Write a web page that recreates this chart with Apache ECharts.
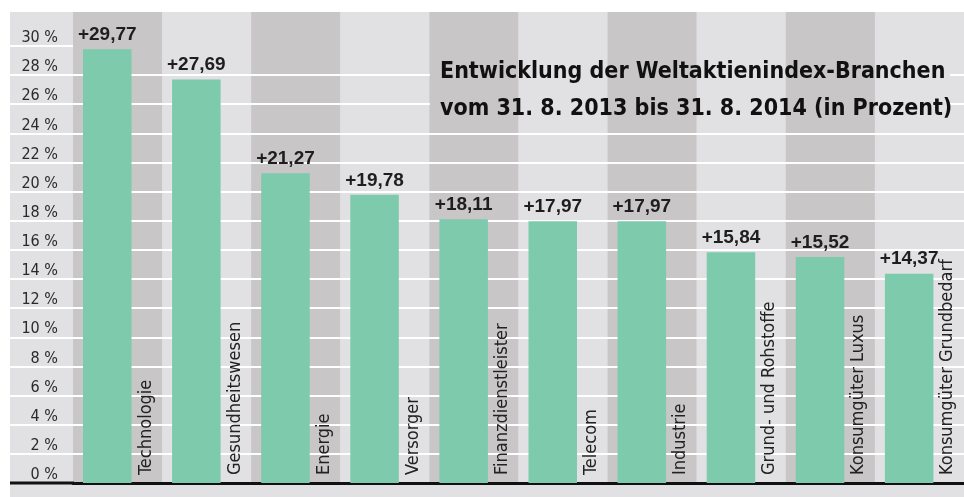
<!DOCTYPE html>
<html>
<head>
<meta charset="utf-8">
<script src="https://cdn.jsdelivr.net/npm/echarts@6/dist/echarts.min.js"></script>
<style>
  html, body { margin: 0; padding: 0; background: #fff; }
  #chart { width: 964px; height: 497px; }
</style>
</head>
<body>
<div id="chart"></div>
<script>
// Daten
const branchen = ['Technologie', 'Gesundheitswesen', 'Energie', 'Versorger', 'Finanzdienstleister',
  'Telecom', 'Industrie', 'Grund- und Rohstoffe', 'Konsumgüter Luxus', 'Konsumgüter Grundbedarf'];
const werte = [29.77, 27.69, 21.27, 19.78, 18.11, 17.97, 17.97, 15.84, 15.52, 14.37];
const yTicks = [0, 2, 4, 6, 8, 10, 12, 14, 16, 18, 20, 22, 24, 26, 28, 30];

const narrow = '"Liberation Sans Narrow", "DejaVu Sans Condensed", sans-serif';
const hell = '#e1e0e2';
const dunkel = '#c8c6c7';

// Gitterlinien: nur bis 30 %, darueber keine
const lineColors = yTicks.map(() => '#ffffff').concat(['rgba(0,0,0,0)', 'rgba(0,0,0,0)']);

const gridLeft = 73, gridTop = 12, gridBottom = 14, yMax = 32.33;
const W = 964, H = 497;
const band = (W - gridLeft) / branchen.length;
const yPx = v => H - gridBottom - v * (H - gridTop - gridBottom) / yMax;

// Hintergrundflaeche, Grundlinie links und Streifen hinter dem Titel
const titelLinks = 430, titelRechts = 950;
const deko = [
  {
    type: 'rect',
    z: -10,
    silent: true,
    shape: { x: 10, y: 12, width: 954, height: 485 },
    style: { fill: hell }
  },
  {
    type: 'rect',
    z: 10,
    silent: true,
    shape: { x: 10, y: yPx(0) - 1.5, width: 64, height: 3 },
    style: { fill: '#111' }
  }
];
branchen.forEach((b, i) => {
  const x0 = Math.max(gridLeft + i * band, titelLinks);
  const x1 = Math.min(gridLeft + (i + 1) * band, titelRechts);
  if (x1 <= x0) return;
  deko.push({
    type: 'rect',
    z: 5,
    silent: true,
    shape: { x: x0, y: yPx(29), width: x1 - x0, height: yPx(25) - yPx(29) },
    style: { fill: i % 2 === 0 ? dunkel : hell }
  });
});

const chart = echarts.init(document.getElementById('chart'));

const option = {
  animation: false,
  backgroundColor: '#ffffff',
  title: {
    text: 'Entwicklung der Weltaktienindex-Branchen\nvom 31. 8. 2013 bis 31. 8. 2014 (in Prozent)',
    left: 440,
    top: 54,
    padding: 0,
    z: 8,
    textStyle: {
      fontFamily: '"DejaVu Sans Condensed", sans-serif',
      fontWeight: 'bold',
      fontSize: 23,
      lineHeight: 37,
      color: '#111'
    }
  },
  graphic: { elements: deko },
  grid: {
    left: gridLeft,
    right: 0,
    top: gridTop,
    bottom: gridBottom,
    containLabel: false
  },
  xAxis: {
    type: 'category',
    z: -1,
    data: branchen,
    axisLine: { lineStyle: { color: '#111', width: 3 } },
    axisTick: { show: false },
    axisLabel: { show: false, interval: 0 },
    splitArea: {
      show: true,
      interval: 0,
      areaStyle: { color: [dunkel, hell] }
    }
  },
  yAxis: {
    type: 'value',
    z: 0,
    min: 0,
    max: yMax,
    interval: 2,
    axisLine: { show: false },
    axisTick: {
      show: true,
      customValues: yTicks.slice(1),
      length: 63,
      lineStyle: { color: '#ffffff', width: 2 }
    },
    axisLabel: {
      customValues: yTicks,
      formatter: v => (v > 30 ? '' : v + ' %'),
      margin: 15,
      verticalAlign: 'bottom',
      fontFamily: narrow,
      fontSize: 16,
      color: '#2a2a2a'
    },
    splitLine: {
      show: true,
      showMinLine: true,
      showMaxLine: false,
      lineStyle: { color: lineColors, width: 2 }
    }
  },
  series: [
    {
      type: 'bar',
      data: werte,
      barWidth: 48.5,
      barGap: '0%',
      itemStyle: { color: '#7dcaac' },
      label: {
        show: true,
        position: 'top',
        distance: 5,
        formatter: p => '+' + p.value.toFixed(2).replace('.', ','),
        fontFamily: '"Liberation Sans", Arial, sans-serif',
        fontWeight: 'bold',
        fontSize: 19,
        color: '#1e1e1e'
      }
    },
    {
      type: 'bar',
      data: werte,
      barWidth: 20.6,
      silent: true,
      itemStyle: { color: 'rgba(0,0,0,0)' },
      label: {
        show: true,
        formatter: '{b}',
        position: ['70%', '100%'],
        rotate: 90,
        align: 'left',
        verticalAlign: 'middle',
        padding: [0, 0, 0, 8],
        fontFamily: narrow,
        fontSize: 18,
        color: '#222'
      }
    }
  ]
};

chart.setOption(option);
</script>
</body>
</html>
